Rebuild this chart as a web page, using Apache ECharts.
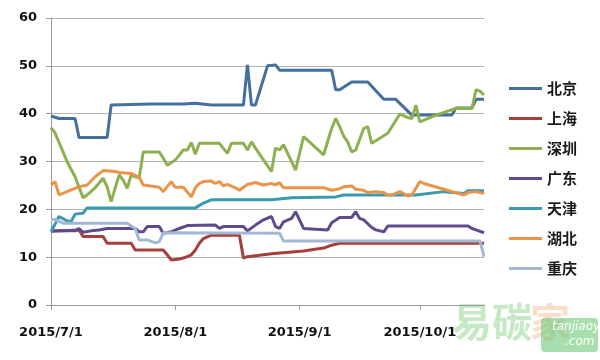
<!DOCTYPE html>
<html>
<head>
<meta charset="utf-8">
<script src="https://cdn.jsdelivr.net/npm/echarts@6/dist/echarts.min.js"></script>
<style>html,body{margin:0;padding:0;background:#fff}#c{width:600px;height:360px}</style>
</head>
<body>
<div id="c"></div>
<script>
const seriesNames = ['北京','上海','深圳','广东','天津','湖北','重庆'];
const xTickLabels = ['7/1','8/1','9/1','10/1'];
const yTicks = [0,10,20,30,40,50,60];

const beijing = [['7/1',39.5],['7/3',39.0],['7/7',39.0],['7/8',35.0],['7/15',35.0],['7/16',41.8],['7/26',42.0],['8/3',42.0],['8/6',42.2],['8/10',41.8],['8/18',41.8],['8/19',50.2],['8/20',41.8],['8/21',41.8],['8/24',50.0],['8/26',50.2],['8/27',49.1],['9/9',49.1],['9/10',45.0],['9/11',45.0],['9/14',46.6],['9/18',46.6],['9/22',43.0],['9/25',43.0],['9/29',39.7],['10/9',39.7],['10/10',41.2],['10/14',41.2],['10/15',43.0],['10/17',43.0]];
const shanghai = [['7/1',15.4],['7/8',15.7],['7/9',14.3],['7/14',14.3],['7/15',12.9],['7/21',12.9],['7/22',11.5],['7/29',11.5],['7/30',10.5],['7/31',9.4],['8/2',9.6],['8/4',10.1],['8/5',10.5],['8/6',11.5],['8/7',12.9],['8/8',13.9],['8/10',14.6],['8/17',14.6],['8/18',9.8],['8/19',10.1],['8/25',10.7],['9/2',11.3],['9/7',11.9],['9/9',12.5],['9/11',12.9],['10/17',12.9]];
const shenzhen = [['7/1',37.1],['7/2',36],['7/4',32],['7/5',30],['7/7',26.8],['7/9',22.4],['7/10',23],['7/12',24.5],['7/14',26.5],['7/15',24.7],['7/16',21.6],['7/18',27.2],['7/19',26.1],['7/20',24.4],['7/21',27.2],['7/22',26.8],['7/23',26.6],['7/24',32],['7/28',32],['7/29',30.7],['7/30',29.2],['8/1',30.3],['8/3',32.4],['8/4',32.4],['8/5',34],['8/6',31.5],['8/7',33.8],['8/12',33.8],['8/14',31.7],['8/15',33.8],['8/18',33.8],['8/19',32.4],['8/20',34.1],['8/21',32.8],['8/25',27.9],['8/26',32.8],['8/27',32.4],['8/28',33.5],['8/30',30],['8/31',28.2],['9/2',35.2],['9/7',31.4],['9/9',36.9],['9/10',39],['9/11',37.3],['9/12',35.3],['9/13',34.1],['9/14',32],['9/15',32.4],['9/17',36.9],['9/18',37.3],['9/19',33.8],['9/23',35.9],['9/26',39.9],['9/28',39.2],['9/29',39],['9/30',41.8],['10/1',38.3],['10/5',39.7],['10/10',41.1],['10/14',41.1],['10/15',45],['10/16',44.7],['10/17',43.9]];
const guangdong = [['7/1',15.5],['7/7',15.5],['7/8',16],['7/9',15.2],['7/11',15.5],['7/13',15.7],['7/15',16],['7/22',16],['7/23',15.3],['7/24',15.3],['7/25',16.4],['7/28',16.4],['7/29',15],['7/31',15.3],['8/2',16],['8/4',16.6],['8/11',16.7],['8/12',16],['8/13',16.4],['8/18',16.4],['8/19',15.5],['8/21',16.7],['8/23',17.8],['8/25',18.5],['8/26',16.4],['8/27',16],['8/28',17.4],['8/30',18.1],['8/31',19.5],['9/2',16],['9/6',15.8],['9/8',15.7],['9/9',17.2],['9/11',18.3],['9/14',18.3],['9/15',19.5],['9/16',18.1],['9/17',17.8],['9/19',16.2],['9/20',15.7],['9/22',15.3],['9/23',16.5],['10/13',16.5],['10/14',16],['10/15',15.7],['10/17',15.1]];
const tianjin = [['7/1',15.3],['7/3',18.5],['7/5',17.6],['7/6',17.4],['7/7',19],['7/9',19.2],['7/10',20.3],['8/6',20.3],['8/8',21.3],['8/10',22],['8/25',22],['8/30',22.4],['9/10',22.6],['9/12',23],['9/30',23],['10/7',23.7],['10/12',23.3],['10/13',23.9],['10/17',23.9]];
const hubei = [['7/1',25.1],['7/2',25.8],['7/3',23],['7/5',23.7],['7/7',24.4],['7/8',24.7],['7/10',25.1],['7/12',26.8],['7/14',28.1],['7/17',27.9],['7/18',27.7],['7/21',27.5],['7/23',26.7],['7/24',25.1],['7/28',24.6],['7/29',23.7],['7/31',25.8],['8/1',24.6],['8/3',24.6],['8/5',22.6],['8/6',24.5],['8/7',25.4],['8/8',25.8],['8/10',25.9],['8/11',25.4],['8/12',25.8],['8/13',24.9],['8/14',25.2],['8/16',24.5],['8/17',24],['8/19',25.2],['8/20',25.4],['8/21',25.6],['8/23',25.1],['8/25',25.4],['8/26',25.1],['8/27',25.6],['8/28',24.5],['9/7',24.5],['9/9',24],['9/11',24.3],['9/12',24.7],['9/14',24.9],['9/15',24.2],['9/17',24],['9/18',23.5],['9/20',23.7],['9/22',23.5],['9/23',23],['9/24',23],['9/26',23.7],['9/27',23.3],['9/28',22.8],['9/29',23],['10/1',25.8],['10/2',25.4],['10/7',24.2],['10/9',23.7],['10/12',23],['10/13',23.5],['10/15',23.7],['10/17',23.3]];
const chongqing = [['7/1',17.9],['7/2',17.9],['7/4',17.1],['7/20',17.1],['7/22',16],['7/23',13.6],['7/25',13.6],['7/27',13],['7/28',13.2],['7/29',15.1],['8/27',15],['8/28',13.4],['10/16',13.4],['10/17',10.1]];

const colors = ['#44709d','#a3403c','#8fb050','#5f4b8b','#3a9bb0','#e8954a','#a2b9d6'];
const allData = [beijing, shanghai, shenzhen, guangdong, tianjin, hubei, chongqing];

function ts(md){ const p = md.split('/'); return new Date(2015, +p[0]-1, +p[1]).getTime(); }

const chart = echarts.init(document.getElementById('c'));
const fontNum = 'DejaVu Sans';
chart.setOption({
  animation:false,
  color: colors,
  grid:{left:51,right:116,top:18,bottom:55},
  legend:{
    orient:'vertical', left:509, top:81, padding:0, itemWidth:33, itemHeight:3, itemGap:15,
    icon:'rect',
    data: seriesNames,
    textStyle:{fontFamily:'Noto Sans CJK SC',fontWeight:'bold',fontSize:15,color:'#1a1a1a'}
  },
  xAxis:{
    type:'value', min: ts('7/1'), max: ts('10/17'),
    axisLine:{lineStyle:{color:'#9a9a9a',width:1}},
    axisTick:{show:true, customValues: xTickLabels.map(ts), length:5, inside:false, lineStyle:{color:'#9a9a9a'}},
    axisLabel:{customValues: xTickLabels.map(ts), margin:21, fontFamily:fontNum, fontWeight:'bold', fontSize:13, color:'#111',
      formatter: v => { const d = new Date(v); return d.getFullYear()+'/'+(d.getMonth()+1)+'/'+d.getDate(); }},
    splitLine:{show:false}
  },
  yAxis:{
    type:'value', min:0, max:60, interval:10,
    axisLine:{show:true, lineStyle:{color:'#9a9a9a'}},
    axisTick:{show:true, length:5, lineStyle:{color:'#9a9a9a'}},
    axisLabel:{margin:14, fontFamily:fontNum, fontWeight:'bold', fontSize:13, color:'#111'},
    splitLine:{lineStyle:{color:'#b4b4b4',width:1}}
  },
  graphic:[
    {type:'text', left:452, top:302, z:-1, style:{text:'易碳', font:'bold 40px "Noto Sans CJK SC"', fill:'rgba(110,200,110,0.4)'}},
    {type:'text', left:530, top:302, z:-1, style:{text:'家', font:'bold 40px "Noto Sans CJK SC"', fill:'rgba(245,170,120,0.4)'}},
    {type:'rect', left:541, top:318, z:-1, shape:{width:57,height:34,r:4}, style:{fill:'rgba(110,200,120,0.6)'}},
    {type:'text', left:552, top:321, z:-1, style:{text:'tanjiaoyi', font:'italic 12px "DejaVu Sans"', fill:'#fff'}},
    {type:'text', left:565, top:336, z:-1, style:{text:'.com', font:'italic 12px "DejaVu Sans"', fill:'#fff'}}
  ],
  series: seriesNames.map((n,i)=>({
    name:n, type:'line', showSymbol:false, symbol:'none',
    data: allData[i].map(p=>[ts(p[0]), p[1]]),
    lineStyle:{width:3, color:colors[i]},
    itemStyle:{color:colors[i]}
  }))
});
</script>
</body>
</html>
